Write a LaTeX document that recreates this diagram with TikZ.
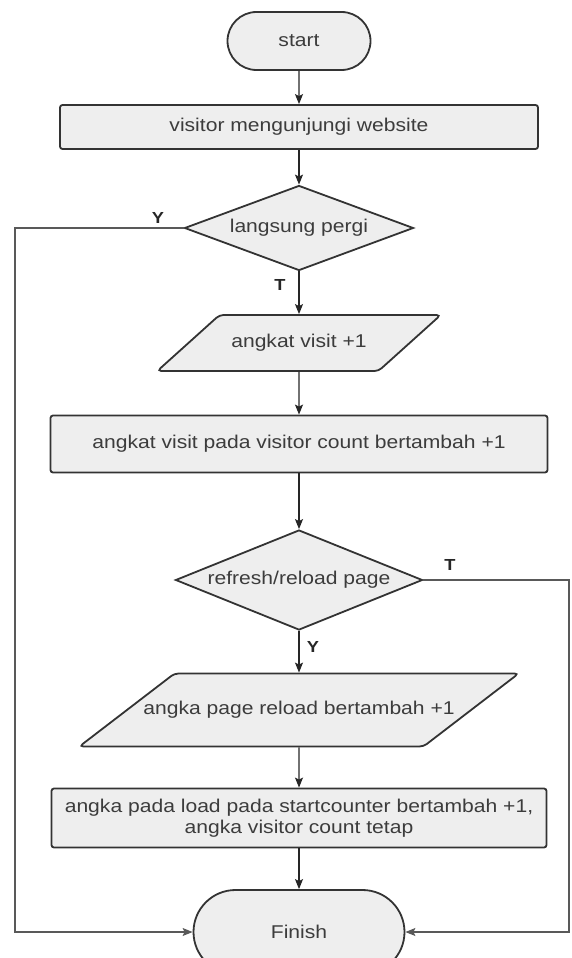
\documentclass[tikz,border=0pt]{standalone}
\usepackage{fontspec}
\setmainfont{Liberation Sans}[FakeStretch=1.14]
\usepackage{xcolor}
\usepackage{tikz}
\usetikzlibrary{arrows.meta,shapes.geometric,shapes.misc}
\definecolor{boxfill}{HTML}{EEEEEE}
\definecolor{boxline}{HTML}{333333}
\definecolor{txt}{HTML}{3C3C3C}

\begin{document}
\begin{tikzpicture}[>={Stealth[length=10pt,width=8pt,inset=2pt]}, x=1pt, y=-1pt,
  base/.style={draw=boxline, line width=1.8pt, fill=boxfill, text=txt,
    font=\fontsize{18.5}{21.5}\selectfont, inner sep=0pt},
  term/.style={base, rounded rectangle},
  proc/.style={base, rectangle, rounded corners=2.5pt, align=center},
  io/.style={base, trapezium, inner xsep=0pt, text height=13pt, text depth=4pt, rounded corners=4pt},
  dec/.style={base, diamond},
  lbl/.style={font=\fontsize{16}{16}\selectfont\bfseries, text=black!85},
  flow/.style={->, line width=1.3pt, black!85},
  loop/.style={flow, line width=1.1pt, black!65}]
  \useasboundingbox (0,0) rectangle (571,958);
  \clip (0,0) rectangle (571,958);

  \node[term, minimum width=143pt, minimum height=58pt] (start) at (299,41) {start};
  \node[proc, minimum width=478pt, minimum height=44pt] (visit) at (299,127) {visitor mengunjungi website};
  \node[dec, aspect=2.69, minimum width=229pt, minimum height=85pt] (pergi) at (299,228) {langsung pergi};
  \node[io, inner ysep=19.5pt, trapezium left angle=42, trapezium right angle=138] (angkat) at (299,343)
    {\makebox[159pt]{angkat visit +1}};
  \node[proc, minimum width=497pt, minimum height=57pt] (count) at (299,444)
    {angkat visit pada visitor count bertambah +1};
  \node[dec, aspect=2.47, minimum width=247pt, minimum height=100pt] (reload) at (299,580) {refresh/reload page};
  \node[io, inner ysep=28pt, trapezium left angle=37.5, trapezium right angle=142.5] (page) at (299,710)
    {\makebox[249pt]{angka page reload bertambah +1}};
  \node[proc, minimum width=495pt, minimum height=59pt] (load) at (299,818)
    {angka pada load pada startcounter bertambah +1,\\angka visitor count tetap};
  \node[term, minimum width=211pt, minimum height=84pt] (fin) at (299,932) {Finish};

  \coordinate (lx) at (15,0);
  \coordinate (rx) at (569,0);

  \draw[flow] (start) -- (visit);
  \draw[flow] (visit) -- (pergi);
  \draw[flow] (pergi) -- (angkat);
  \draw[flow] (angkat) -- (count);
  \draw[flow] (count) -- (reload);
  \draw[flow] (reload) -- (page);
  \draw[flow] (page) -- (load);
  \draw[flow] (load) -- (fin);
  \draw[loop] (pergi.west) -- (pergi.west -| lx) |- (fin.west);
  \draw[loop] (reload.east) -- (reload.east -| rx) |- (fin.east);

  \node[lbl] (ya1) at (158,218) {Y};
  \node[lbl] (no1) at (280,285) {T};
  \node[lbl] (no2) at (450,565) {T};
  \node[lbl] (ya2) at (313,647) {Y};
\end{tikzpicture}
\end{document}
